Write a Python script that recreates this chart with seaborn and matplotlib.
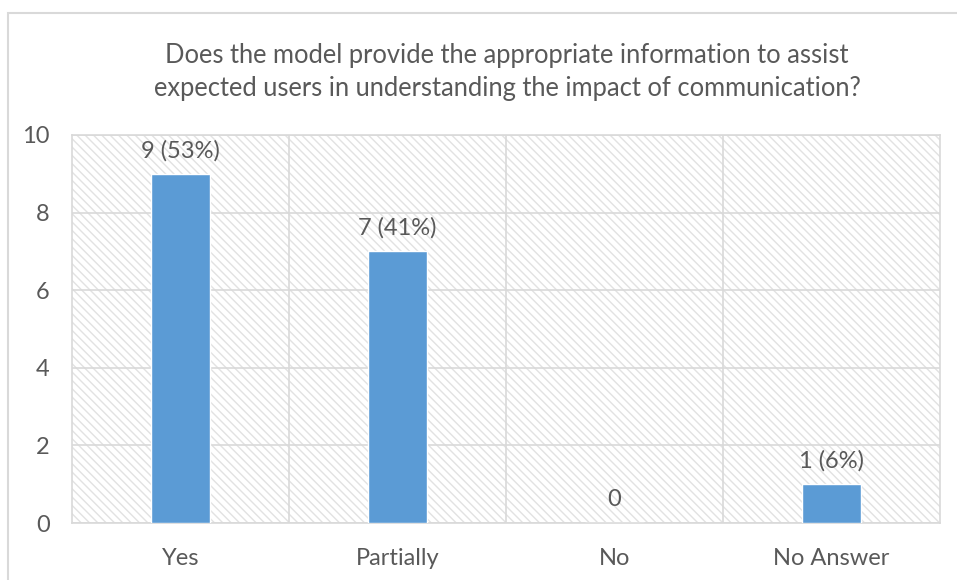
import matplotlib
matplotlib.use("Agg")
import matplotlib.pyplot as plt
from matplotlib.patches import Rectangle
import seaborn as sns
import pandas as pd

# Survey responses
categories = ["Yes", "Partially", "No", "No Answer"]
counts = [9, 7, 0, 1]
title = ("Does the model provide the appropriate information to assist\n"
         "expected users in understanding the impact of communication?")
y_ticks = [0, 2, 4, 6, 8, 10]

total = sum(counts)
labels = [f"{c} ({round(c / total * 100)}%)" if c else "0" for c in counts]
df = pd.DataFrame({"category": categories, "count": counts})

sns.set_theme(style="white")
plt.rcParams["font.family"] = ["Lato", "DejaVu Sans"]
plt.rcParams["hatch.linewidth"] = 1.0

TEXT = "#595959"
GRID = "#d9d9d9"
BAR = "#5B9BD5"

fig = plt.figure(figsize=(9.57, 5.8), dpi=100)
ax = fig.add_axes([72 / 957, 1 - 523 / 580, (940 - 72) / 957, (523 - 135) / 580])

# chart-area border
fig.patches.append(Rectangle((8 / 957, -0.05), 1.2, 1 - 13 / 580 + 0.05,
                             transform=fig.transFigure, fill=False,
                             edgecolor=GRID, linewidth=1.5, zorder=0))

# hatched plot-area background
ax.add_patch(Rectangle((0, 0), 1, 1, transform=ax.transAxes, facecolor="white",
                       edgecolor="#e2e2e2", hatch="\\\\\\\\", linewidth=0, zorder=0))

sns.barplot(data=df, x="category", y="count", color=BAR, width=0.27,
            saturation=1, ax=ax, zorder=3)

ax.set_ylim(0, 10)
ax.set_xlim(-0.5, len(categories) - 0.5)
ax.set_yticks(y_ticks)
ax.set_yticklabels([str(t) for t in y_ticks])
ax.set_xlabel("")
ax.set_ylabel("")

for t in y_ticks:
    ax.axhline(t, color=GRID, linewidth=1.2, zorder=1)
for b in [0.5, 1.5, 2.5]:
    ax.axvline(b, color=GRID, linewidth=1.2, zorder=1)
for s in ax.spines.values():
    s.set_color(GRID)
    s.set_linewidth(1.2)

ax.tick_params(axis="both", length=0, colors=TEXT, labelsize=17)
ax.tick_params(axis="x", pad=18)
ax.tick_params(axis="y", pad=16)

for i, (c, lab) in enumerate(zip(counts, labels)):
    ax.annotate(lab, (i, c), xytext=(0, 9), textcoords="offset points",
                ha="center", va="bottom", fontsize=17, color=TEXT, zorder=4)

fig.text(507 / 957, 1 - 72 / 580, title, ha="center", va="center",
         fontsize=18.4, color=TEXT, linespacing=1.4)

fig.savefig("out.png", dpi=100)
